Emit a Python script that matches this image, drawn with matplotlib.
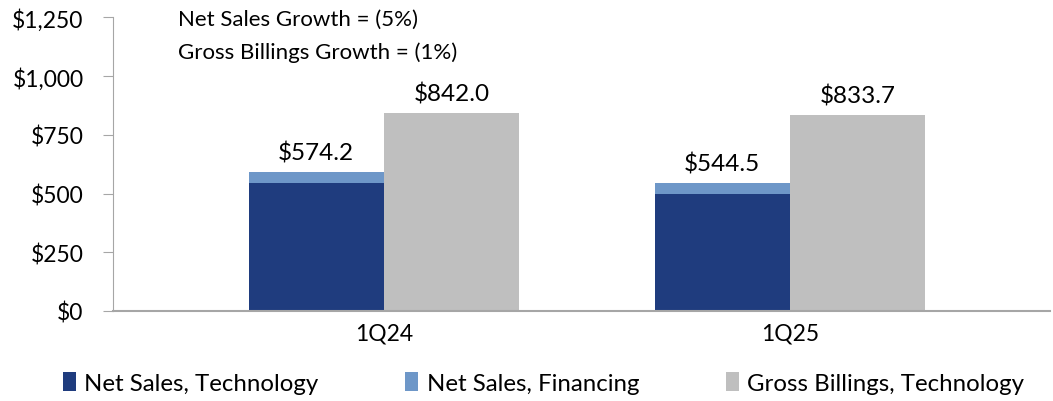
import matplotlib.pyplot as plt
from matplotlib.ticker import FuncFormatter
import numpy as np

plt.rcParams["font.family"] = ["Lato", "DejaVu Sans"]

quarters = ["1Q24", "1Q25"]
net_tech = [547.0, 497.0]
net_fin = [43.0, 47.0]
gross_billings = [842.0, 833.7]
net_labels = ["$574.2", "$544.5"]
gross_labels = ["$842.0", "$833.7"]
y_ticks = [0, 250, 500, 750, 1000, 1250]

NAVY = "#1F3C7E"
LIGHT = "#6E97C8"
GRAY = "#BFBFBF"
AXIS = "#A6A6A6"

fig = plt.figure(figsize=(10.53, 4.02), dpi=100)
ax = fig.add_axes([0.107, 0.224, 0.89, 0.730])

x = np.arange(len(quarters))
w = 0.333
tech_x = x - w / 2
gross_x = x + w / 2

ax.bar(tech_x, net_tech, width=w, color=NAVY, label="Net Sales, Technology")
ax.bar(tech_x, net_fin, bottom=net_tech, width=w, color=LIGHT, label="Net Sales, Financing")
ax.bar(gross_x, gross_billings, width=w, color=GRAY, label="Gross Billings, Technology")

for i in range(len(quarters)):
    top = net_tech[i] + net_fin[i]
    ax.text(tech_x[i], top + 38, net_labels[i], ha="center", va="bottom", fontsize=17.5)
    ax.text(gross_x[i], gross_billings[i] + 38, gross_labels[i], ha="center", va="bottom", fontsize=17.5)

ax.set_xlim(-0.668, 1.640)
ax.set_ylim(0, 1250)
ax.set_yticks(y_ticks)
ax.yaxis.set_major_formatter(FuncFormatter(lambda v, p: f"${v:,.0f}"))
ax.set_xticks(x)
ax.set_xticklabels(quarters)
ax.tick_params(axis="y", length=7, color=AXIS, labelsize=16.5, pad=14)
ax.tick_params(axis="x", length=0, labelsize=16.5, pad=8)

for side in ["top", "right"]:
    ax.spines[side].set_visible(False)
ax.spines["left"].set_color(AXIS)
ax.spines["bottom"].set_color(AXIS)
ax.spines["bottom"].set_linewidth(1.5)

ax.text(0.070, 0.995, "Net Sales Growth = (5%)", transform=ax.transAxes, fontsize=16, va="center")
ax.text(0.070, 0.885, "Gross Billings Growth = (1%)", transform=ax.transAxes, fontsize=16, va="center")

fig.legend(loc="center", bbox_to_anchor=(0.516, 0.045), ncol=3, frameon=False,
           fontsize=17.3, handlelength=0.55, handleheight=0.8, handletextpad=0.35,
           columnspacing=3.6)

fig.savefig("out.png", dpi=100)
